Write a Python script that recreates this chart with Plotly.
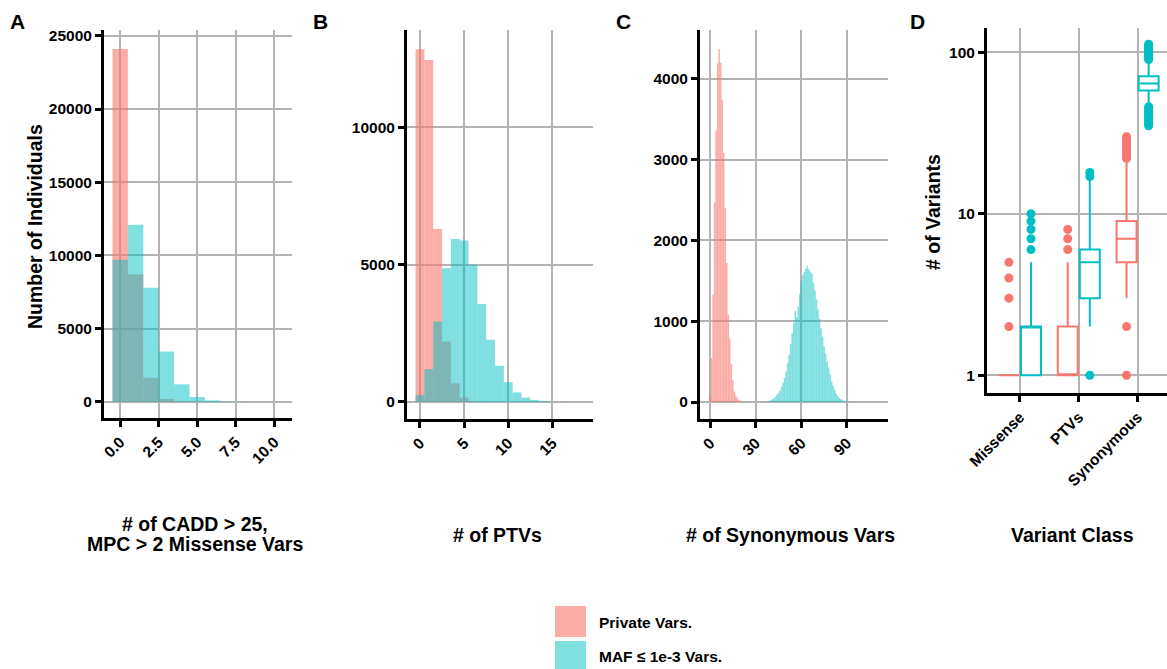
import plotly.graph_objects as go

W, H = 1167, 669
PINK = '#F8766D'
TEAL = '#00BFC4'
PINK_FILL = 'rgba(248,118,109,0.6)'
TEAL_FILL = 'rgba(0,191,196,0.5)'
FONT = 'Liberation Sans'

# ---------------- data ----------------
# Panel A: # of CADD>25, MPC>2 missense vars
a_bins = [0, 1, 2, 3, 4, 5, 6, 7, 8, 9, 10]
a_private = [24100, 8700, 1650, 200, 30, 5, 1, 0, 0, 0, 0]
a_maf = [9700, 12100, 7800, 3440, 1200, 330, 100, 25, 6, 2, 1]

# Panel B: # of PTVs
b_bins = [0, 1, 2, 3, 4, 5, 6, 7, 8, 9, 10, 11, 12, 13, 14, 15, 16]
b_private = [12850, 12460, 6300, 2200, 680, 160, 30, 5, 1, 0, 0, 0, 0, 0, 0, 0, 0]
b_maf = [250, 1200, 2930, 4870, 5940, 5880, 5000, 3570, 2270, 1320, 720, 350, 160, 70, 30, 10, 3]

# Panel C: # of synonymous vars
c_private_bins = [0, 1, 2, 3, 4, 5, 6, 7, 8, 9, 10, 11, 12, 13, 14, 15, 16, 17, 18, 19, 20, 21]
c_private = [100, 544, 1328, 2470, 3357, 4194, 4367, 4200, 3740, 3081, 2400, 1720,
             1085, 784, 474, 268, 130, 80, 50, 25, 15, 8]
c_maf_bins = [35, 36, 37, 38, 39, 40, 41, 42, 43, 44, 45, 46, 47, 48, 49, 50, 51, 52, 53, 54,
              55, 56, 57, 58, 59, 60, 61, 62, 63, 64, 65, 66, 67, 68, 69, 70, 71, 72, 73, 74,
              75, 76, 77, 78, 79, 80, 81, 82, 83, 84, 85, 86, 87, 88, 89, 90, 91, 92, 93, 94]
c_maf = [2, 3, 5, 8, 14, 22, 35, 48, 65, 90, 110, 140, 185, 240, 300, 380, 480, 580, 720, 850,
         980, 1130, 1050, 1180, 1340, 1500, 1570, 1612, 1650, 1687, 1640, 1610, 1590, 1480, 1380, 1270, 1150, 1030, 910, 810,
         690, 600, 500, 430, 340, 255, 200, 150, 105, 70, 50, 35, 25, 17, 11, 7, 5, 3, 2, 1]

# Panel D: box plot summaries
d_categories = ['Missense', 'PTVs', 'Synonymous']
d_private_q1 = [1, 1, 5]
d_private_med = [1, 1, 7]
d_private_q3 = [1, 2, 9]
d_private_lo = [1, 1, 3]
d_private_hi = [1, 5, 21]
d_private_out = [[2, 3, 4, 5], [6, 7, 8], [1, 2, 22, 23, 24, 25, 26, 27, 28, 29, 30]]
d_maf_q1 = [1, 3, 58]
d_maf_med = [2, 5, 64]
d_maf_q3 = [2, 6, 71]
d_maf_lo = [1, 2, 47]
d_maf_hi = [5, 16, 89]
d_maf_out = [[6, 7, 8, 9, 10], [1, 17, 18],
             [35, 36, 37, 38, 39, 40, 41, 42, 43, 44, 45, 46,
              90, 92, 94, 96, 98, 100, 102, 104, 106, 108, 110, 112]]

# ---------------- figure ----------------
fig = go.Figure()

def add_hist(bins, vals, color, xa, ya):
    fig.add_trace(go.Bar(x=bins, y=vals, width=1, marker=dict(color=color, line=dict(width=0)),
                         xaxis=xa, yaxis=ya, showlegend=False))

add_hist(a_bins, a_private, PINK_FILL, 'x', 'y')
add_hist(a_bins, a_maf, TEAL_FILL, 'x', 'y')
add_hist(b_bins, b_private, PINK_FILL, 'x2', 'y2')
add_hist(b_bins, b_maf, TEAL_FILL, 'x2', 'y2')
add_hist(c_private_bins, c_private, PINK_FILL, 'x3', 'y3')
add_hist(c_maf_bins, c_maf, TEAL_FILL, 'x3', 'y3')

OFF = 0.1875
BOXW = 0.34
pos = [1, 2, 3]
for sign, col, q1, med, q3, lo, hi, outs in [
        (-1, PINK, d_private_q1, d_private_med, d_private_q3, d_private_lo, d_private_hi, d_private_out),
        (1, TEAL, d_maf_q1, d_maf_med, d_maf_q3, d_maf_lo, d_maf_hi, d_maf_out)]:
    xs = [p + sign * OFF for p in pos]
    fig.add_trace(go.Box(x=xs, q1=q1, median=med, q3=q3, lowerfence=lo, upperfence=hi,
                         width=BOXW, boxpoints=False, whiskerwidth=0,
                         line=dict(color=col, width=2), fillcolor='white',
                         xaxis='x4', yaxis='y4', showlegend=False))
    ox, oy = [], []
    for x, o in zip(xs, outs):
        ox += [x] * len(o)
        oy += o
    fig.add_trace(go.Scatter(x=ox, y=oy, mode='markers', marker=dict(color=col, size=9),
                             xaxis='x4', yaxis='y4', showlegend=False))

def px_dom_x(a, b):
    return [a / W, min(b / W, 1.0)]

def px_dom_y(top, bottom):
    return [1 - bottom / H, 1 - top / H]

tickfont = dict(family=FONT, size=15.5, color='black', weight='bold')
common = dict(showline=True, linewidth=3, linecolor='black', ticks='outside', ticklen=6,
              tickwidth=3, tickcolor='black', showgrid=True, gridcolor='#B3B3B3', gridwidth=1.6,
              zeroline=False, tickfont=tickfont, fixedrange=True, automargin=False)

fig.update_layout(
    width=W, height=H, margin=dict(l=0, r=0, t=0, b=0, pad=0, autoexpand=False),
    paper_bgcolor='white', plot_bgcolor='white', barmode='overlay', showlegend=False,
    font=dict(family=FONT, color='black'),
    xaxis=dict(domain=px_dom_x(104, 292), anchor='y', range=[-1.05, 11.15],
               tickvals=[0, 2.5, 5, 7.5, 10], ticktext=['0.0', '2.5', '5.0', '7.5', '10.0'],
               tickangle=-45, **common),
    yaxis=dict(domain=px_dom_y(30, 418), anchor='x', range=[-1100, 25400],
               tickvals=[0, 5000, 10000, 15000, 20000, 25000], tickformat='d', **common),
    xaxis2=dict(domain=px_dom_x(407, 593), anchor='y2', range=[-1.47, 19.6],
                tickvals=[0, 5, 10, 15], tickangle=-45, **common),
    yaxis2=dict(domain=px_dom_y(30, 419), anchor='x2', range=[-620, 13550],
                tickvals=[0, 5000, 10000], tickformat='d', **common),
    xaxis3=dict(domain=px_dom_x(700, 888), anchor='y3', range=[-6.6, 117],
                tickvals=[0, 30, 60, 90], tickangle=-45, **common),
    yaxis3=dict(domain=px_dom_y(30, 419), anchor='x3', range=[-210, 4604],
                tickvals=[0, 1000, 2000, 3000, 4000], tickformat='d', **common),
    xaxis4=dict(domain=px_dom_x(987, 1167), anchor='y4', range=[0.44, 3.5],
                tickvals=pos, ticktext=d_categories, tickangle=-45, **common),
    yaxis4=dict(domain=px_dom_y(28, 393), anchor='x4', type='log', range=[-0.11, 2.15],
                tickvals=[1, 10, 100], ticktext=['1', '10', '100'], **common),
)

anns = []
def ann(text, x, y, size, angle=0, xanchor='center'):
    anns.append(dict(text=text, x=x / W, y=1 - y / H, xref='paper', yref='paper',
                     showarrow=False, xanchor=xanchor, yanchor='middle', textangle=angle,
                     font=dict(family=FONT, size=size, color='black', weight='bold')))

# panel letters
ann('A', 17.5, 22, 21)
ann('B', 320.5, 22, 21)
ann('C', 623, 22, 21)
ann('D', 917.5, 22, 21)
# axis titles
ann('Number of Individuals', 35, 227, 19.5, angle=-90)
ann('# of Variants', 933, 212, 19.5, angle=-90)
ann('# of CADD &gt; 25,', 195, 524, 19.5)
ann('MPC &gt; 2 Missense Vars', 195, 544, 19.5)
ann('# of PTVs', 497, 535, 19.5)
ann('# of Synonymous Vars', 790, 535, 19.5)
ann('Variant Class', 1072, 535, 19.5)
# legend text
ann('Private Vars.', 597, 622, 15.5, xanchor='left')
ann('MAF ≤ 1e-3 Vars.', 597, 656, 15.5, xanchor='left')

shapes = [
    dict(type='rect', xref='paper', yref='paper', x0=555 / W, x1=586 / W,
         y0=1 - 637 / H, y1=1 - 606 / H, fillcolor=PINK_FILL, line=dict(width=0)),
    dict(type='rect', xref='paper', yref='paper', x0=555 / W, x1=586 / W,
         y0=1 - 672 / H, y1=1 - 641 / H, fillcolor=TEAL_FILL, line=dict(width=0)),
]
fig.update_layout(annotations=anns, shapes=shapes)

fig.write_html('out.html')
